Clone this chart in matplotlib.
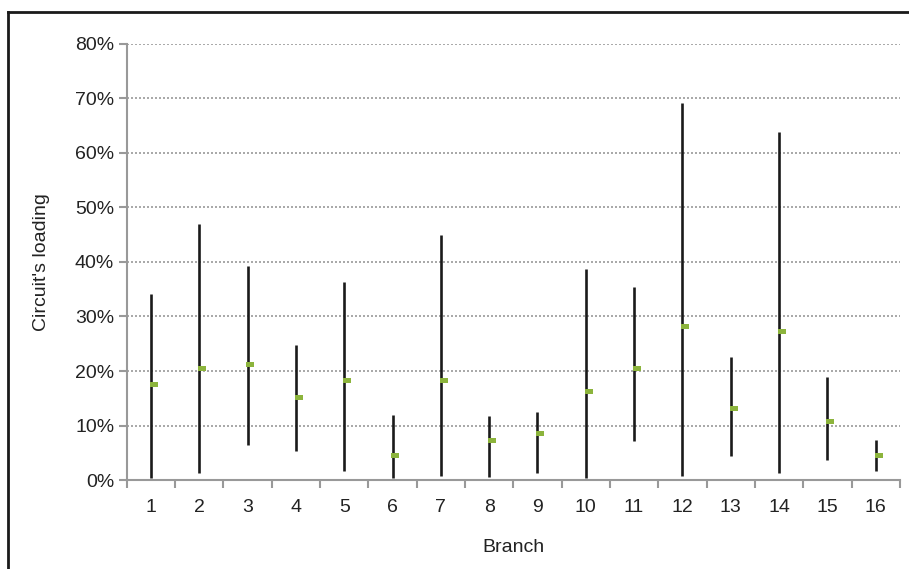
import matplotlib.pyplot as plt
from matplotlib.lines import Line2D
from matplotlib.ticker import MultipleLocator, PercentFormatter

plt.rcParams['font.family'] = ['Liberation Sans', 'DejaVu Sans']

# circuit loading per branch (fraction)
branches = list(range(1, 17))
high = [0.342, 0.469, 0.392, 0.247, 0.364, 0.119, 0.449, 0.117,
        0.125, 0.388, 0.355, 0.692, 0.225, 0.639, 0.189, 0.073]
low = [0.004, 0.012, 0.065, 0.054, 0.017, 0.004, 0.008, 0.006,
       0.013, 0.004, 0.071, 0.008, 0.044, 0.012, 0.037, 0.017]
mean = [0.176, 0.206, 0.213, 0.153, 0.183, 0.046, 0.183, 0.073,
        0.086, 0.163, 0.206, 0.283, 0.132, 0.273, 0.109, 0.046]

fig = plt.figure(figsize=(9.09, 5.69), dpi=100)
ax = fig.add_axes([0.1394, 0.1564, 0.8506, 0.7663])

ax.vlines(branches, low, high, color='#1a1a1a', linewidth=1.9, zorder=3)
box = [(-1, -0.6), (1, -0.6), (1, 0.6), (-1, 0.6), (-1, -0.6)]
ax.plot([b + 0.06 for b in branches], mean, linestyle='none', marker=box,
        markersize=6, color='#8cb43c', markeredgewidth=0, zorder=4)

ax.set_xlim(0.5, 16.5)
ax.set_ylim(0, 0.8)
ax.yaxis.set_major_locator(MultipleLocator(0.1))
ax.yaxis.set_major_formatter(PercentFormatter(1.0, decimals=0))
ax.set_xticks(branches)
ax.set_xticks([b + 0.5 for b in range(0, 17)], minor=True)
ax.tick_params(axis='x', which='major', length=0, pad=14, labelsize=14, labelcolor='#222222')
ax.tick_params(axis='x', which='minor', length=6, width=1.5, color='#999999')
ax.tick_params(axis='y', length=6, width=1.5, color='#999999', pad=3,
               labelsize=14, labelcolor='#222222')

ax.grid(axis='y', linestyle=(0, (1.2, 1.2)), color='#999999', linewidth=1.2)
ax.set_axisbelow(True)
for s in ['top', 'right']:
    ax.spines[s].set_visible(False)
for s in ['left', 'bottom']:
    ax.spines[s].set_color('#999999')
    ax.spines[s].set_linewidth(1.5)

ax.set_xlabel('Branch', fontsize=14, color='#222222', labelpad=16)
ax.set_ylabel("Circuit's loading", fontsize=14, color='#222222', labelpad=18)

# partial frame around the figure
fig.add_artist(Line2D([8 / 909, 8 / 909], [0, 1 - 12 / 569], color='#1a1a1a', linewidth=2,
                      transform=fig.transFigure))
fig.add_artist(Line2D([8 / 909, 1], [1 - 12 / 569, 1 - 12 / 569], color='#1a1a1a', linewidth=2,
                      transform=fig.transFigure))

fig.savefig('out.png', dpi=100)
